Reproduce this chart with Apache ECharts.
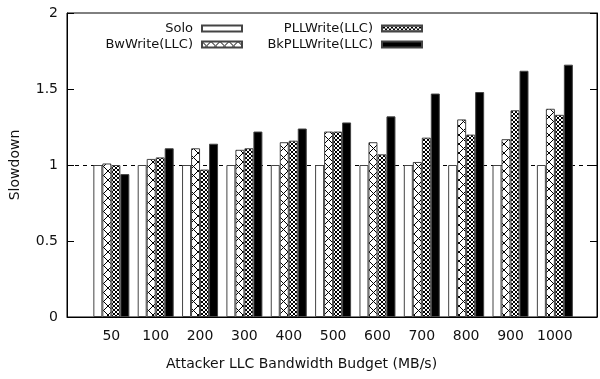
<!DOCTYPE html>
<html>
<head>
<meta charset="utf-8">
<script src="https://cdn.jsdelivr.net/npm/echarts@6/dist/echarts.min.js"></script>
<style>
html, body { margin: 0; padding: 0; background: #fff; }
#chart { width: 600px; height: 379px; }
</style>
</head>
<body>
<div id="chart"></div>
<script>
// ---- data ----
var budgets = ['50', '100', '200', '300', '400', '500', '600', '700', '800', '900', '1000'];
var solo = [1, 1, 1, 1, 1, 1, 1, 1, 1, 1, 1];
var bwWrite = [1.01, 1.04, 1.11, 1.10, 1.15, 1.22, 1.15, 1.02, 1.30, 1.17, 1.37];
var pllWrite = [1.00, 1.05, 0.97, 1.11, 1.16, 1.22, 1.07, 1.18, 1.20, 1.36, 1.33];
var bkPllWrite = [0.94, 1.11, 1.14, 1.22, 1.24, 1.28, 1.32, 1.47, 1.48, 1.62, 1.66];

var font = 'DejaVu Sans';

// fill patterns like gnuplot
function makePattern(size, draw) {
    var c = document.createElement('canvas');
    c.width = size;
    c.height = size;
    var ctx = c.getContext('2d');
    ctx.fillStyle = '#fff';
    ctx.fillRect(0, 0, size, size);
    ctx.strokeStyle = '#000';
    ctx.lineWidth = 1;
    draw(ctx, size);
    return { image: c, repeat: 'repeat' };
}
function crossLines(ctx, s) {
    ctx.beginPath();
    ctx.moveTo(0, 0); ctx.lineTo(s, s);
    ctx.moveTo(s, 0); ctx.lineTo(0, s);
    ctx.stroke();
}
var bigCross = makePattern(9, crossLines);
var smallCross = makePattern(4, crossLines);

function barSeries(name, values, color) {
    return {
        name: name,
        type: 'bar',
        barWidth: 9,
        barGap: '0%',
        data: values.map(function (v, i) { return [i, v]; }),
        itemStyle: { color: color, borderColor: '#444', borderWidth: 1 }
    };
}

var chart = echarts.init(document.getElementById('chart'));

var soloSeries = barSeries('Solo', solo, '#fff');
soloSeries.markLine = {
    silent: true,
    symbol: 'none',
    z: 1,
    label: { show: false },
    lineStyle: { color: '#000', width: 1, type: [4, 4] },
    data: [{ yAxis: 1 }]
};

var legendCommon = {
    orient: 'vertical',
    align: 'right',
    icon: 'rect',
    itemWidth: 40,
    itemHeight: 6,
    itemGap: 3,
    padding: 0,
    top: 22,
    textStyle: { fontFamily: font, fontSize: 13, color: '#111', padding: [0, 4, 0, 0] }
};

var option = {
    animation: false,
    backgroundColor: '#fff',
    grid: { left: 64, right: 1, top: 13, bottom: 62, show: true, borderColor: '#000', borderWidth: 1 },
    legend: [
        Object.assign({ data: ['Solo', 'BwWrite(LLC)'], right: 357 }, legendCommon),
        Object.assign({ data: ['PLLWrite(LLC)', 'BkPLLWrite(LLC)'], right: 177 }, legendCommon)
    ],
    xAxis: {
        type: 'value',
        min: -1,
        max: 10.95,
        interval: 1,
        name: 'Attacker LLC Bandwidth Budget (MB/s)',
        nameLocation: 'middle',
        nameGap: 40,
        nameTextStyle: { fontFamily: font, fontSize: 14, color: '#111', padding: [0, 61, 0, 0] },
        axisLine: { onZero: false, lineStyle: { color: '#000' } },
        axisTick: { show: false },
        splitLine: { show: false },
        axisLabel: {
            fontFamily: font, fontSize: 14, color: '#111', margin: 12,
            formatter: function (v) { return Number.isInteger(v) && budgets[v] ? budgets[v] : ''; }
        }
    },
    yAxis: [{
        type: 'value',
        min: 0,
        max: 2,
        interval: 0.5,
        name: 'Slowdown',
        nameLocation: 'middle',
        nameGap: 45,
        nameTextStyle: { fontFamily: font, fontSize: 14, color: '#111' },
        axisLine: { show: true, onZero: false, lineStyle: { color: '#000' } },
        axisTick: { show: true, inside: true, length: 7, lineStyle: { color: '#000' } },
        splitLine: { show: false },
        axisLabel: { fontFamily: font, fontSize: 14, color: '#111', margin: 9 }
    }, {
        type: 'value',
        position: 'right',
        min: 0,
        max: 2,
        interval: 0.5,
        axisLine: { show: true, onZero: false, lineStyle: { color: '#000' } },
        axisTick: { show: true, inside: true, length: 7, lineStyle: { color: '#000' } },
        splitLine: { show: false },
        axisLabel: { show: false }
    }],
    series: [
        soloSeries,
        barSeries('BwWrite(LLC)', bwWrite, bigCross),
        barSeries('PLLWrite(LLC)', pllWrite, smallCross),
        barSeries('BkPLLWrite(LLC)', bkPllWrite, '#000')
    ]
};

chart.setOption(option);
</script>
</body>
</html>
